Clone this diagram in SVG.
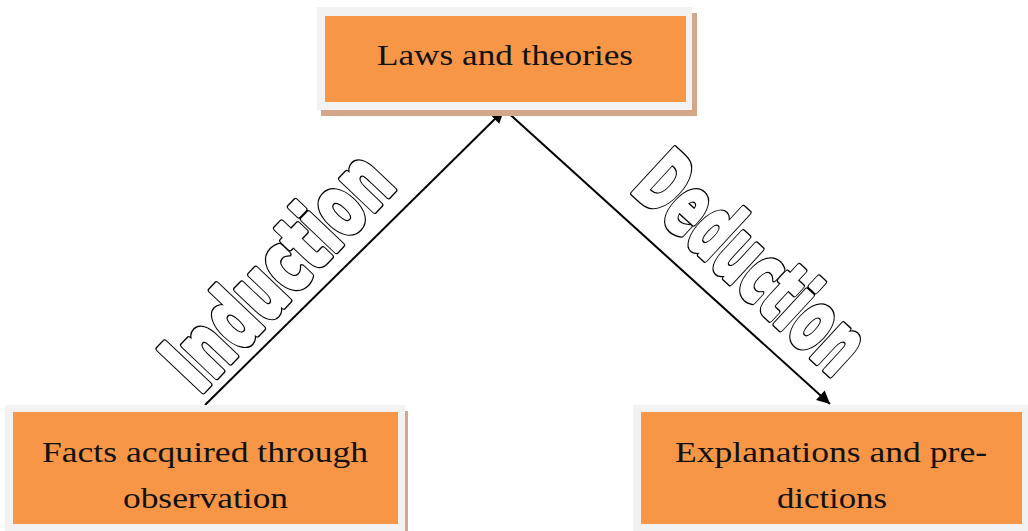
<svg xmlns="http://www.w3.org/2000/svg" width="1028" height="531" viewBox="0 0 1028 531">
  <style>
    .shadow { fill: #D4A68A; }
    .frame { fill: #F2F2F2; }
    .box { fill: #F79646; }
    .label { font-family: "Liberation Serif", "Times New Roman", serif; font-size: 30px; fill: #111; text-anchor: middle; }
    .hollow { font-family: "DejaVu Sans Condensed", "DejaVu Sans", sans-serif; font-weight: bold; font-size: 84px; text-anchor: middle; stroke-linejoin: round; }
    .hollow-edge { fill: #000; stroke: #000; stroke-width: 6.4; }
    .hollow-face { fill: #fff; stroke: #fff; stroke-width: 3.6; }
    .conn { stroke: #000; stroke-width: 2; fill: none; }
  </style>
  <defs>
    <marker id="arrow" viewBox="0 0 10 10" refX="10" refY="5" markerWidth="8" markerHeight="6.5" markerUnits="strokeWidth" orient="auto">
      <path d="M0,0 L10,5 L0,10 z" fill="#000"/>
    </marker>
  </defs>
  <rect width="1028" height="531" fill="#fff"/>

  <!-- connectors -->
  <g id="connectors">
    <line class="conn" x1="205" y1="405" x2="504" y2="110" marker-end="url(#arrow)"/>
    <line class="conn" x1="505" y1="110" x2="830" y2="404" marker-end="url(#arrow)"/>
    <!-- outlined labels: a wide black stroke under a narrower white stroke gives heavy hollow letters -->
    <g transform="translate(298.4,290.9) rotate(-46.5)">
      <text class="hollow hollow-edge" textLength="288" lengthAdjust="spacingAndGlyphs">Induction</text>
      <text class="hollow hollow-face" textLength="288" lengthAdjust="spacingAndGlyphs">Induction</text>
    </g>
    <g transform="translate(731.7,284.2) rotate(42.7)">
      <text class="hollow hollow-edge" textLength="278" lengthAdjust="spacingAndGlyphs">Deduction</text>
      <text class="hollow hollow-face" textLength="278" lengthAdjust="spacingAndGlyphs">Deduction</text>
    </g>
  </g>

  <!-- top node -->
  <g id="laws">
    <rect class="shadow" x="321" y="13" width="376" height="103"/>
    <rect class="frame" x="317" y="7" width="375" height="103"/>
    <rect class="box" x="325" y="16" width="361" height="86"/>
    <text class="label" x="505" y="65" textLength="256" lengthAdjust="spacingAndGlyphs">Laws and theories</text>
  </g>

  <!-- bottom-left node -->
  <g id="facts">
    <rect class="shadow" x="9" y="411" width="399" height="130"/>
    <rect class="frame" x="5" y="405" width="400" height="130"/>
    <rect class="box" x="13" y="412" width="385" height="112"/>
    <text class="label" x="205" y="462" textLength="326" lengthAdjust="spacingAndGlyphs">Facts acquired through</text>
    <text class="label" x="205.5" y="508" textLength="165" lengthAdjust="spacingAndGlyphs">observation</text>
  </g>

  <!-- bottom-right node -->
  <g id="explanations">
    <rect class="frame" x="633" y="405" width="400" height="130"/>
    <rect class="box" x="641" y="412" width="381" height="112"/>
    <text class="label" x="831" y="462" textLength="312" lengthAdjust="spacingAndGlyphs">Explanations and pre-</text>
    <text class="label" x="832" y="508" textLength="110" lengthAdjust="spacingAndGlyphs">dictions</text>
  </g>
</svg>
